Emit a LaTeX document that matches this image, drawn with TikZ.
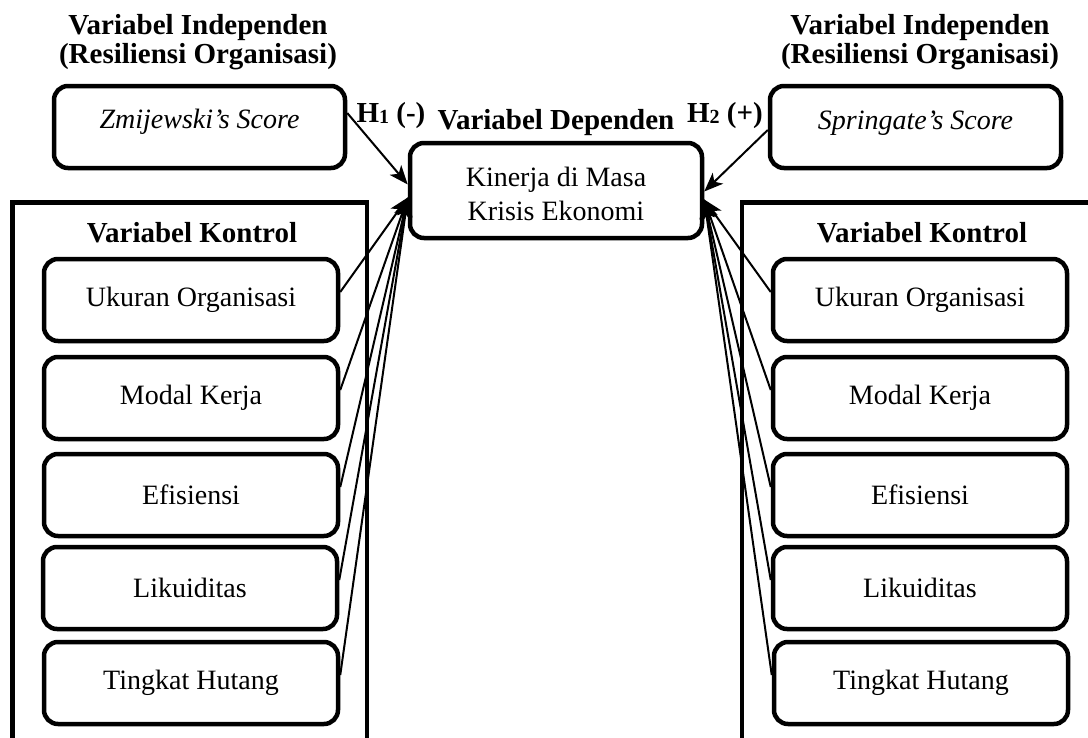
\documentclass[tikz,border=0pt]{standalone}
\usepackage{fontspec}
\setmainfont{Liberation Serif}
\usetikzlibrary{arrows.meta,calc}
\newcommand{\hsub}[1]{{\fontsize{20}{20}\selectfont\raisebox{-1.5pt}{#1}}}
\newcommand{\shiftup}[2]{\raisebox{#1}[\height][\depth]{#2}}
\begin{document}
\begin{tikzpicture}[x=1pt,y=-1pt,
  box/.style={draw,line width=4.5pt,rounded corners=14pt,align=center,inner sep=0pt,
    minimum width=294pt,minimum height=82pt,font=\fontsize{28}{34}\selectfont},
  title/.style={align=center,font=\fontsize{29}{29.5}\selectfont\bfseries,inner sep=0pt},
  frame/.style={line width=4.5pt},
  arr/.style={line width=2pt,-{Stealth[length=19pt,width=15pt,inset=5pt]}}
]
\useasboundingbox (0,0) rectangle (1088,737);

% titles
\node[title] (tL) at (198,42) {Variabel Independen\\(Resiliensi Organisasi)};
\node[title] (tR) at (920,42) {Variabel Independen\\(Resiliensi Organisasi)};
\node[title,anchor=base] (tD) at (556,129) {Variabel Dependen};
\node[title,anchor=base] (h1) at (391,122) {H\hsub{1} (-)};
\node[title,anchor=base] (h2) at (725,122) {H\hsub{2} (+)};

% independent boxes
\node[box,minimum width=291pt,font=\fontsize{28}{34}\selectfont\itshape] (zm) at (199.5,127) {\shiftup{5pt}{Zmijewski’s Score}};
\node[box,minimum width=291pt,font=\fontsize{28}{34}\selectfont\itshape] (sp) at (915.5,127) {\shiftup{4pt}{Springate’s Score}};

% dependent box
\node[box,minimum width=292pt,minimum height=95pt] (dep) at (556,190.5)
  {\shiftup{-6pt}{\begin{tabular}{@{}c@{}}Kinerja di Masa\\Krisis Ekonomi\end{tabular}}};

% control frames
\draw[frame] (12.5,745) -- (12.5,202.5) -- (367,202.5) -- (367,745);
\draw[frame] (742,745) -- (742,202.5) -- (1095,202.5);
\node[title,anchor=base] (kL) at (192,242) {Variabel Kontrol};
\node[title,anchor=base] (kR) at (922,242) {Variabel Kontrol};

% left controls
\node[box] (l1) at (191,300) {Ukuran Organisasi};
\node[box] (l2) at (191,398) {Modal Kerja};
\node[box] (l3) at (191,495) {Efisiensi};
\node[box] (l4) at (190,588) {Likuiditas};
\node[box] (l5) at (191,683) {Tingkat Hutang};

% right controls
\node[box] (r1) at (920,300) {Ukuran Organisasi};
\node[box] (r2) at (920,398) {Modal Kerja};
\node[box] (r3) at (920,495) {Efisiensi};
\node[box] (r4) at (920,588) {Likuiditas};
\node[box] (r5) at (921,683) {Tingkat Hutang};

% arrows
\draw[arr] ([yshift=14pt]zm.east) -- ([yshift=6pt]dep.west);
\draw[arr] ([yshift=-3pt]sp.west) -- ([yshift=-1pt]dep.east);
\foreach \n in {l1,l2,l3,l4,l5}{
  \draw[arr] ([yshift=8pt]\n.east) -- ([yshift=-7pt]dep.west);
}
\foreach \n in {r1,r2,r3,r4,r5}{
  \draw[arr] ([yshift=8pt]\n.west) -- ([yshift=-9pt]dep.east);
}
\end{tikzpicture}
\end{document}
